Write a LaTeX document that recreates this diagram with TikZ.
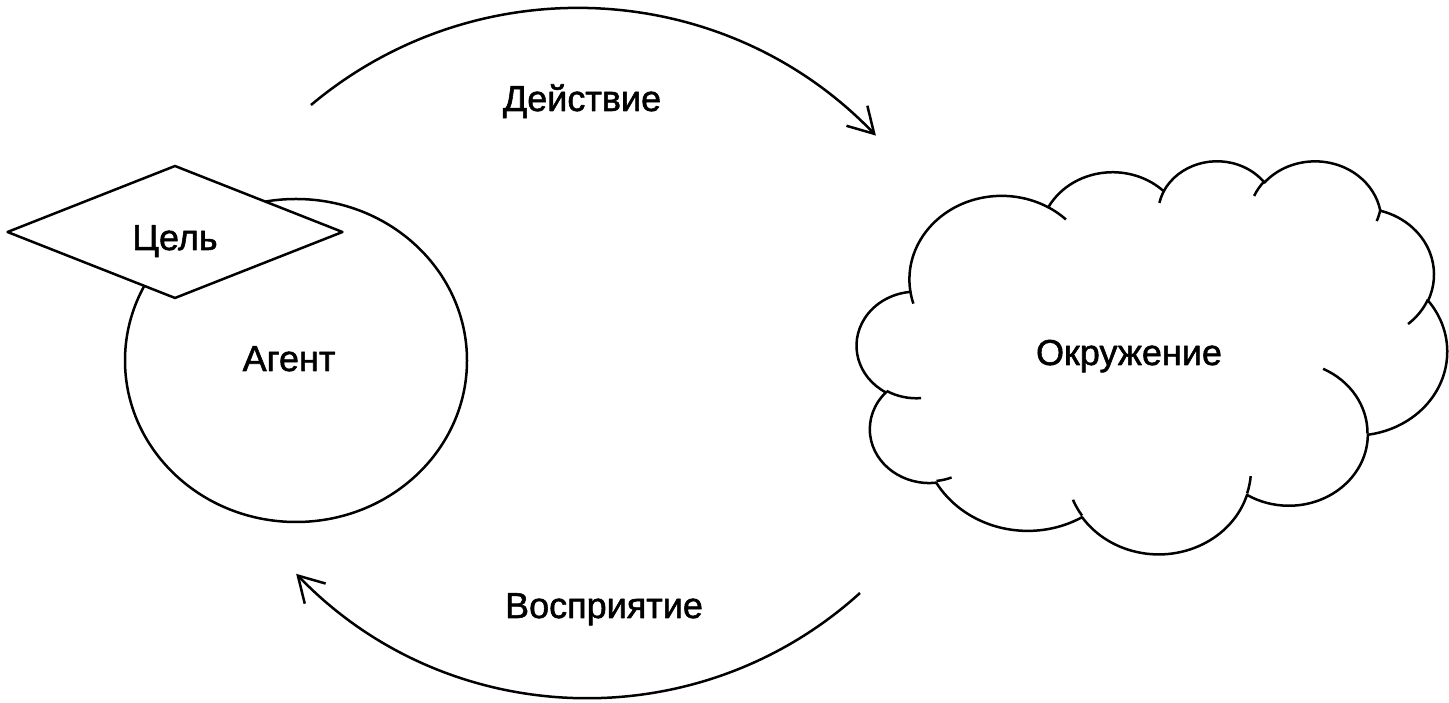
\documentclass[tikz,border=0pt]{standalone}
\usepackage{fontspec}
\setmainfont{Liberation Sans}[FakeBold=1.5]
\usetikzlibrary{shapes.geometric,arrows.meta}
% parametric angle of the ellipse point seen at visual angle #3
\pgfmathdeclarefunction{vpa}{3}{%
  \begingroup
  \pgfmathparse{atan2((#1)*sin(#3),(#2)*cos(#3))}%
  \pgfmathsmuggle\pgfmathresult
  \endgroup}
\pgfmathdeclarefunction{vpe}{4}{%
  \begingroup
  \pgfmathsetmacro\vpta{atan2((#1)*sin(#3),(#2)*cos(#3))}%
  \pgfmathsetmacro\vptb{atan2((#1)*sin(#3+#4),(#2)*cos(#3+#4))}%
  \pgfmathparse{\vptb+360*round((\vpta+#4-\vptb)/360)}%
  \pgfmathsmuggle\pgfmathresult
  \endgroup}
\newcommand\carc[4]{arc[x radius=#1,y radius=#2,start angle={vpa(#1,#2,#3)},end angle={vpe(#1,#2,#3,#4)}]}
\begin{document}
\begin{tikzpicture}[x=1pt,y=1pt,line width=2.5pt,line join=round,
  lbl/.style={font=\fontsize{36}{43}\selectfont,inner sep=0pt,anchor=base},
  arr/.style={-{Straight Barb[length=25pt,width=29pt]}}]
\useasboundingbox (0,0) rectangle (1449,703);
% agent
\node[draw,ellipse,minimum width=342pt,minimum height=323pt,inner sep=0pt] (agent) at (296,342.5) {};
\node[lbl] (agenttext) at (289,332) {Агент};
% goal
\node[draw,diamond,fill=white,minimum width=336pt,minimum height=133pt,inner sep=0pt] (goal) at (175,471) {};
\node[lbl] (goaltext) at (175,453) {Цель};
% labels
\node[lbl] (act) at (582,592) {Действие};
\node[lbl] (perc) at (604,85) {Восприятие};
\node[lbl] (envtext) at (1129,338) {Окружение};
% arcs
\coordinate (actstart) at (311,598);
\draw[arr] (actstart) arc[radius=414,start angle=130,end angle=43.8];
\coordinate (percstart) at (860,110);
\draw[arr] (percstart) arc[radius=405,start angle=-47.8,end angle=-136.1];
% environment cloud
\begin{scope}[shift={(857,543)},x=1.36574pt,y=-0.90972pt]
\draw (39,143.70)
  \carc{67.53}{91.90}{-190.48748}{123.78053}
  \carc{53.33}{72.67}{-144.10238}{89.94523}
  \carc{43.65}{59.45}{-145.80792}{99.72302}
  \carc{48.57}{65.95}{-130.98607}{117.24173}
  \carc{53.33}{72.73}{-78.70888}{109.02692}
  \carc{67.75}{92.20}{-46.26725}{130.269}
  \carc{57.85}{78.67}{0.62502}{114.03333}
  \carc{67.52}{92.15}{22.4516}{115.17255}
  \carc{77.20}{105.43}{66.24263}{75.71102}
  \carc{43.60}{59.18}{-274.94208}{146.73557}
  \carc{43.45}{59.45}{-246.8285}{152.51885}
  -- cycle;
\draw (46.93,261.77) \carc{43.45}{59.45}{86.742}{26.4295};
\draw (69.28,348.99) \carc{43.60}{59.18}{73.61047}{11.44747};
\draw (164.78,390.90) \carc{67.52}{92.15}{137.62415}{14.0811};
\draw (288.27,347.51) \carc{67.52}{92.15}{6.45327}{15.99835};
\draw (341.29,229.54) \carc{57.85}{78.67}{-70.29235}{70.91737};
\draw (417.98,153.54) \carc{53.33}{72.73}{30.31803}{27.7515};
\draw (383.24,54.26) \carc{48.57}{65.95}{13.74433}{14.8589};
\draw (290.78,39.52) \carc{48.57}{65.95}{-149.18145}{18.19537};
\draw (221.41,47.20) \carc{43.65}{59.45}{-163.49427}{17.68635};
\draw (140.00,51.92) \carc{67.53}{91.90}{-66.70695}{12.31935};
\draw (41.27,157.89) \carc{67.53}{91.90}{157.65435}{11.85817};
\end{scope}
\end{tikzpicture}
\end{document}
